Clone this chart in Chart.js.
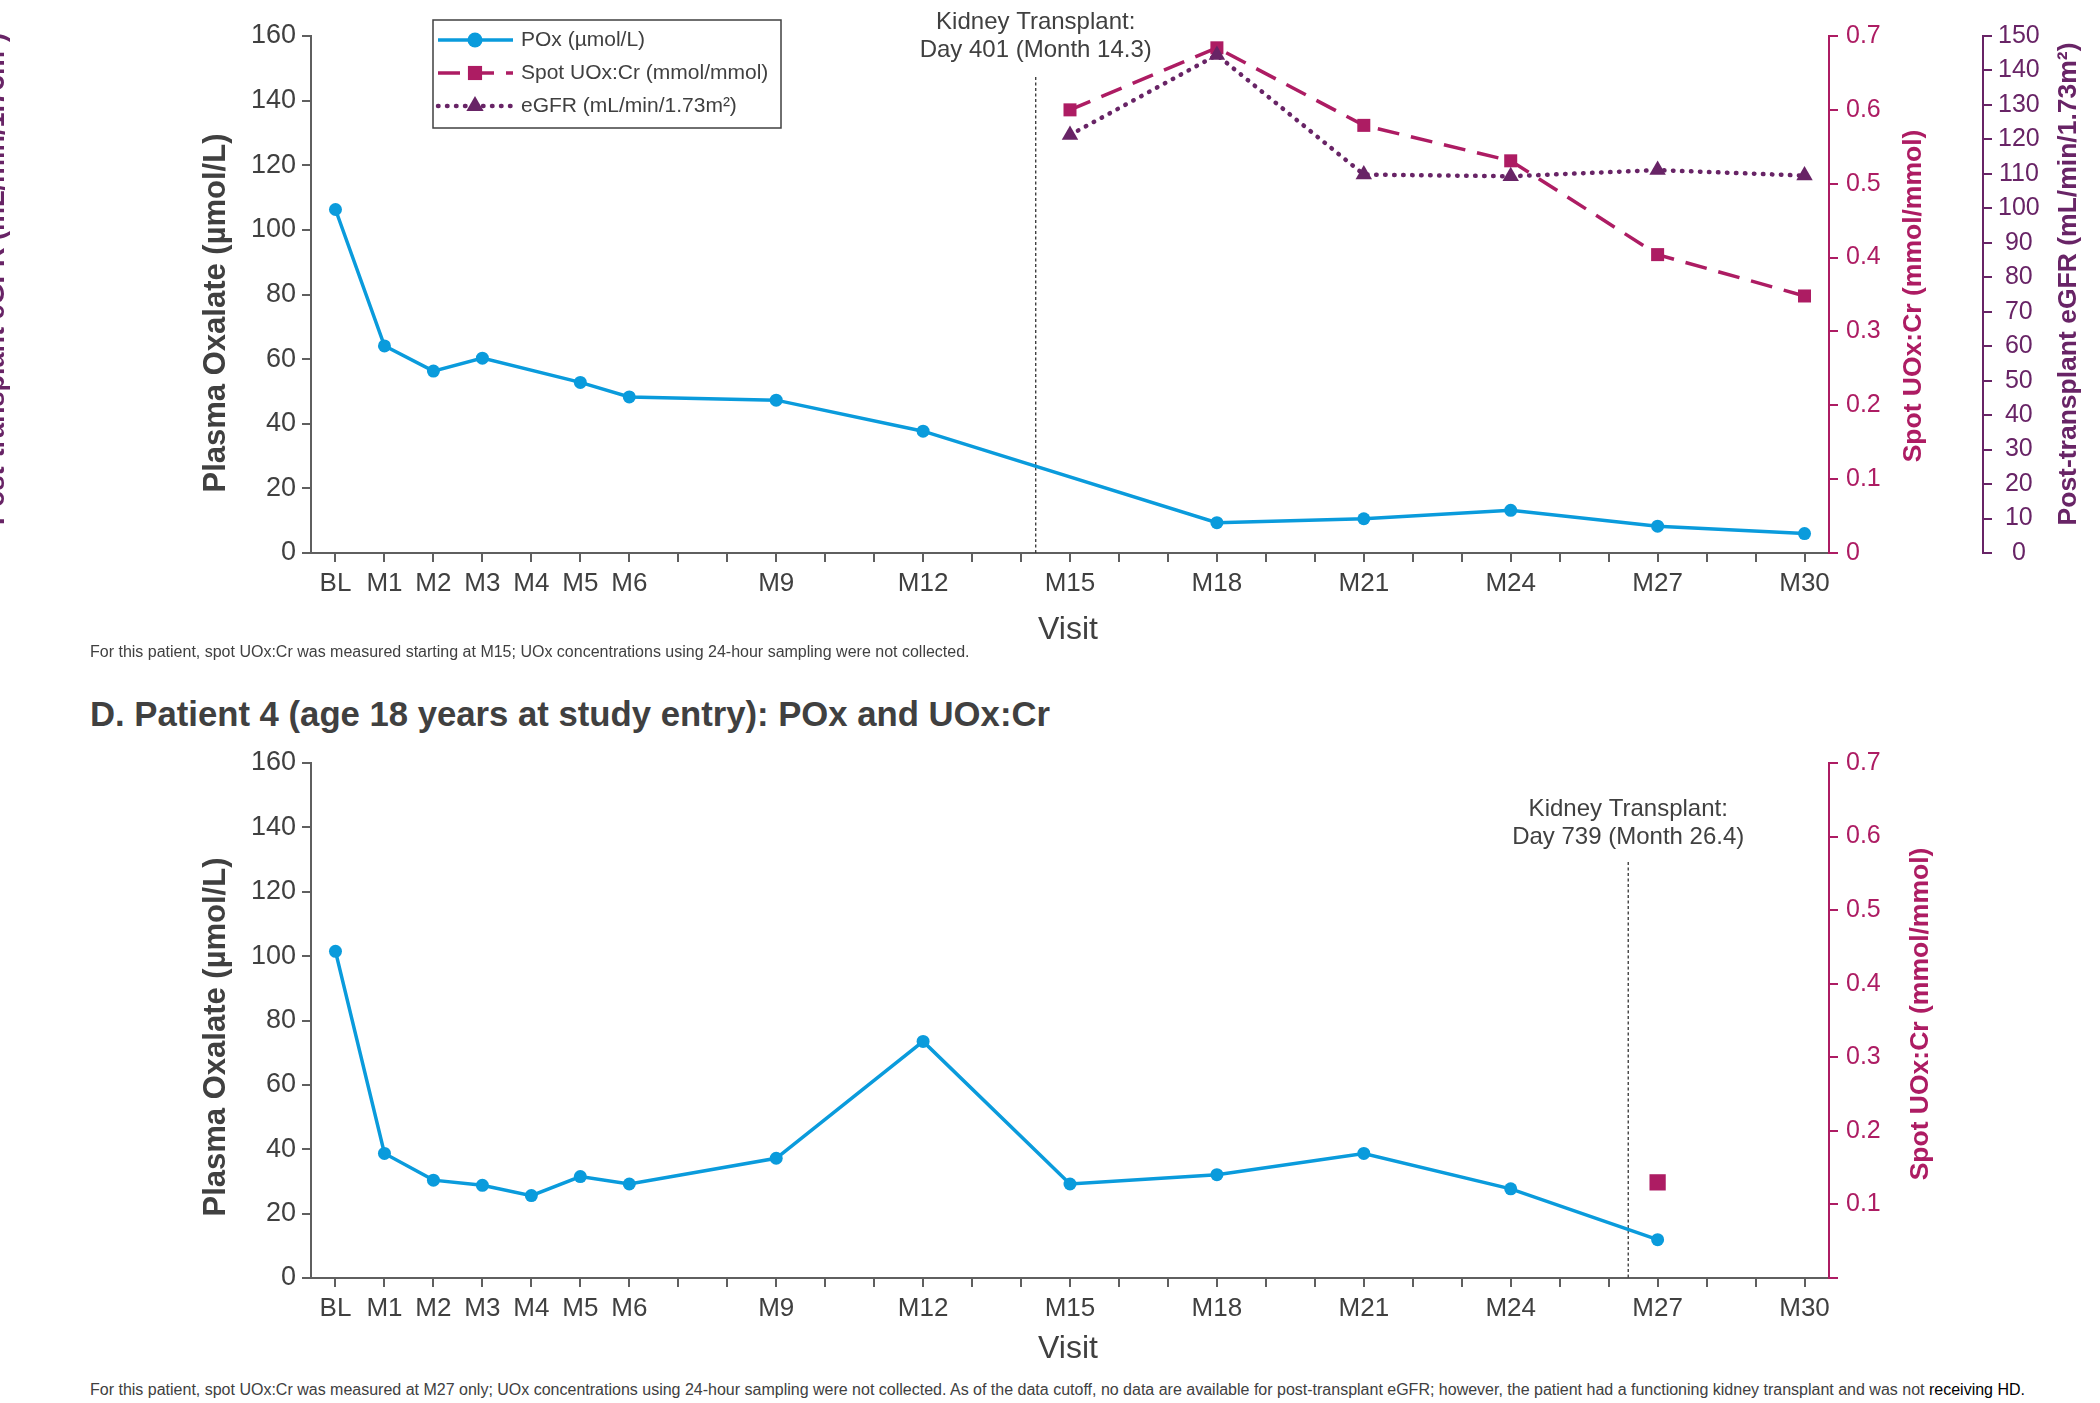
<!DOCTYPE html>
<html>
<head>
<meta charset="utf-8">
<title>Patient POx, UOx:Cr and eGFR</title>
<script src="https://cdn.jsdelivr.net/npm/chart.js@4.4.1/dist/chart.umd.min.js"></script>
<style>
  body { margin: 0; background: #fff; }
  #page { position: relative; width: 2100px; height: 1403px; overflow: hidden; background: #fff;
          font-family: "Liberation Sans", Arial, Helvetica, sans-serif; color: #404040; }
  #page canvas { position: absolute; left: 0; }
  .note { position: absolute; left: 90px; font-size: 16px; line-height: 20px; white-space: nowrap; }
  .panel-title { position: absolute; left: 90px; top: 694px; font-size: 34.7px; line-height: 40px;
                 font-weight: bold; white-space: nowrap; }
</style>
</head>
<body>
<div id="page">
  <canvas id="topChart" width="2100" height="660" style="top:0;width:2100px;height:660px"></canvas>
  <div class="note" style="top:642px">For this patient, spot UOx:Cr was measured starting at M15; UOx concentrations using 24-hour sampling were not collected.</div>
  <div class="panel-title">D. Patient 4 (age 18 years at study entry): POx and UOx:Cr</div>
  <canvas id="bottomChart" width="2100" height="640" style="top:740px;width:2100px;height:640px"></canvas>
  <div class="note" style="top:1380px">For this patient, spot UOx:Cr was measured at M27 only; UOx concentrations using 24-hour sampling were not collected. As of the data cutoff, no data are available for post-transplant eGFR; however, the patient had a functioning kidney transplant and was not <span style="color:#000">receiving HD.</span></div>
</div>

<script>
// ---- data ----
const visitMonths = [0, 1, 2, 3, 4, 5, 6, 9, 12, 15, 18, 21, 24, 27, 30];
const tickMonths = [0, 1, 2, 3, 4, 5, 6, 7, 8, 9, 10, 11, 12, 13, 14, 15, 16, 17, 18, 19, 20, 21, 22, 23, 24, 25, 26, 27, 28, 29, 30];
const tickLabels = ['BL', 'M1', 'M2', 'M3', 'M4', 'M5', 'M6', '', '', 'M9', '', '', 'M12', '', '', 'M15',
                    '', '', 'M18', '', '', 'M21', '', '', 'M24', '', '', 'M27', '', '', 'M30'];

// upper panel (transplant at month 14.3)
const p3Pox   = [106.3, 64.1, 56.3, 60.3, null, 52.8, 48.3, 47.3, 37.7, null, 9.4, 10.6, 13.2, 8.3, 6.0];
const p3UoxCr = [null, null, null, null, null, null, null, null, null, 0.60, 0.684, 0.579, 0.531, 0.404, 0.348];
const p3Egfr  = [null, null, null, null, null, null, null, null, null, 121.3, 144.5, 109.8, 109.3, 111.1, 109.5];
const p3TransplantMonth = 14.3;
const p3TransplantText = ['Kidney Transplant:', 'Day 401 (Month 14.3)'];

// lower panel, patient 4 (transplant at month 26.4)
const p4Pox   = [101.5, 38.7, 30.4, 28.8, 25.6, 31.5, 29.2, 37.2, 73.5, 29.2, 32.1, 38.7, 27.7, 11.9, null];
const p4UoxCr = [null, null, null, null, null, null, null, null, null, null, null, null, null, 0.13, null];
const p4TransplantMonth = 26.4;
const p4TransplantText = ['Kidney Transplant:', 'Day 739 (Month 26.4)'];

const legendLabels = ['POx (\u00b5mol/L)', 'Spot UOx:Cr (mmol/mmol)', 'eGFR (mL/min/1.73m\u00b2)'];

// ---- styles ----
const FONT = '"Liberation Sans", Arial, Helvetica, sans-serif';
const TEXT = '#404040';
const AXIS = '#5f5f5f';
const BLUE = '#0a9bdc';
const PINK = '#ad1c63';
const PURPLE = '#682466';

function toPoints(months, values) {
    return months.map((m, i) => ({ x: m, y: values[i] })).filter(p => p.y !== null);
}

function fixedWidth(w) { return scale => { scale.width = w; }; }
function fixedHeight(h) { return scale => { scale.height = h; }; }

function xScale(height) {
    return {
        type: 'linear', min: -0.5, max: 30.5,
        afterBuildTicks: s => { s.ticks = tickMonths.map(v => ({ value: v })); },
        afterFit: fixedHeight(height),
        grid: { drawOnChartArea: false, tickLength: 9, color: AXIS, lineWidth: 2 },
        border: { color: AXIS, width: 2 },
        ticks: { autoSkip: false, maxRotation: 0, padding: 6, color: TEXT,
                 font: { family: FONT, size: 26 },
                 callback: (v, i) => tickLabels[i] }
    };
}

function poxScale() {
    return {
        position: 'left', min: 0, max: 160,
        afterFit: fixedWidth(311),
        grid: { drawOnChartArea: false, tickLength: 9, color: AXIS, lineWidth: 2 },
        border: { color: AXIS, width: 2 },
        ticks: { stepSize: 20, padding: 6, color: TEXT, font: { family: FONT, size: 27 } }
    };
}

function uoxScale(showZero) {
    return {
        position: 'right', min: 0, max: 0.7,
        afterFit: fixedWidth(154),
        grid: { drawOnChartArea: false, tickLength: 9, color: PINK, lineWidth: 2 },
        border: { color: PINK, width: 2 },
        ticks: { stepSize: 0.1, padding: 8, color: PINK, font: { family: FONT, size: 25 },
                 callback: v => Math.abs(v) < 1e-9 ? (showZero ? '0' : '') : v.toFixed(1) }
    };
}

// transplant marker, axis titles and legend
const decorPlugin = {
    id: 'decor',
    beforeDatasetsDraw(chart, args, opts) {
        const { ctx, chartArea, scales } = chart;
        const tx = scales.x.getPixelForValue(opts.transplantMonth);
        ctx.save();
        ctx.strokeStyle = '#333';
        ctx.lineWidth = 1.3;
        ctx.setLineDash([3, 2.5]);
        ctx.beginPath();
        ctx.moveTo(tx, opts.lineTop);
        ctx.lineTo(tx, chartArea.bottom);
        ctx.stroke();
        ctx.restore();
    },
    afterDraw(chart, args, opts) {
        const { ctx, scales } = chart;
        const tx = scales.x.getPixelForValue(opts.transplantMonth);
        ctx.save();
        ctx.fillStyle = TEXT;
        ctx.font = '24px ' + FONT;
        ctx.textAlign = 'center';
        ctx.textBaseline = 'middle';
        opts.transplantText.forEach((t, i) => ctx.fillText(t, tx, opts.labelY[i]));

        opts.titles.forEach(t => {
            ctx.save();
            ctx.translate(t.x, t.y);
            ctx.rotate(t.rot || 0);
            ctx.font = t.font;
            ctx.fillStyle = t.color;
            ctx.textAlign = 'center';
            ctx.textBaseline = t.baseline || 'middle';
            ctx.fillText(t.text, 0, 0);
            ctx.restore();
        });

        if (opts.legend) {
            const L = opts.legend;
            ctx.strokeStyle = '#404040';
            ctx.lineWidth = 1.5;
            ctx.strokeRect(L.x, L.y, L.w, L.h);
            chart.data.datasets.forEach((ds, i) => {
                const y = L.rowY[i];
                ctx.save();
                ctx.strokeStyle = ds.borderColor;
                ctx.lineWidth = ds.borderWidth;
                ctx.lineCap = ds.borderCapStyle || 'butt';
                ctx.setLineDash(ds.borderDash || []);
                ctx.beginPath();
                ctx.moveTo(L.x + 5, y);
                ctx.lineTo(L.x + 80, y);
                ctx.stroke();
                ctx.setLineDash([]);
                ctx.fillStyle = ds.backgroundColor;
                Chart.helpers.drawPoint(ctx, { pointStyle: ds.pointStyle, radius: L.markerR[i], rotation: 0, borderWidth: 0 },
                                        L.x + 42, y);
                ctx.restore();
                ctx.fillStyle = TEXT;
                ctx.font = '21px ' + FONT;
                ctx.textAlign = 'left';
                ctx.textBaseline = 'middle';
                ctx.fillText(legendLabels[i], L.x + 88, y);
            });
        }
        ctx.restore();
    }
};

const common = {
    responsive: false,
    animation: false,
    events: [],
    plugins: { legend: { display: false }, tooltip: { enabled: false } }
};

// ---- upper panel ----
new Chart(document.getElementById('topChart'), {
    type: 'line',
    data: {
        datasets: [
            { label: legendLabels[0], data: toPoints(visitMonths, p3Pox), yAxisID: 'y', order: 0,
              borderColor: BLUE, backgroundColor: BLUE, borderWidth: 3.5,
              pointStyle: 'circle', pointRadius: 6.5, pointBorderWidth: 0, clip: false },
            { label: legendLabels[1], data: toPoints(visitMonths, p3UoxCr), yAxisID: 'yU', order: 2,
              borderColor: PINK, backgroundColor: PINK, borderWidth: 3.5, borderDash: [22, 12],
              pointStyle: 'rect', pointRadius: 9.2, pointBorderWidth: 0, clip: false },
            { label: legendLabels[2], data: toPoints(visitMonths, p3Egfr), yAxisID: 'yE', order: 1,
              borderColor: PURPLE, backgroundColor: PURPLE, borderWidth: 4.5, borderDash: [0.5, 8.5],
              borderCapStyle: 'round', pointStyle: 'triangle', pointRadius: 9.5, pointBorderWidth: 0, clip: false }
        ]
    },
    options: Object.assign({}, common, {
        layout: { padding: { top: 36, left: 0, right: 0, bottom: 0 } },
        scales: {
            x: xScale(107),
            y: poxScale(),
            yU: uoxScale(true),
            yE: {
                position: 'right', min: 0, max: 150,
                afterFit: fixedWidth(117),
                grid: { drawOnChartArea: false, tickLength: 9, color: PURPLE, lineWidth: 2 },
                border: { color: PURPLE, width: 2 },
                ticks: { stepSize: 10, padding: 6, color: PURPLE, crossAlign: 'center',
                         font: { family: FONT, size: 25 } }
            }
        },
        plugins: Object.assign({}, common.plugins, {
            decor: {
                transplantMonth: p3TransplantMonth,
                transplantText: p3TransplantText,
                labelY: [22, 50],
                lineTop: 77,
                legend: { x: 433, y: 20, w: 348, h: 108, rowY: [40, 73, 106], markerR: [7.5, 10, 10] },
                titles: [
                    { text: 'Plasma Oxalate (\u00b5mol/L)', x: 216, y: 313, rot: -Math.PI / 2,
                      font: 'bold 31px ' + FONT, color: TEXT },
                    { text: 'Spot UOx:Cr (mmol/mmol)', x: 1914, y: 296, rot: -Math.PI / 2,
                      font: 'bold 26.5px ' + FONT, color: PINK },
                    { text: 'Post-transplant eGFR (mL/min/1.73m\u00b2)', x: 2069, y: 284, rot: -Math.PI / 2,
                      font: 'bold 26.5px ' + FONT, color: PURPLE },
                    { text: 'Visit', x: 1068, y: 630, font: '32px ' + FONT, color: TEXT },
                    // clipped title of the neighbouring panel at the left edge
                    { text: 'Post-transplant eGFR (mL/min/1.73m\u00b2)', x: 4, y: 279, rot: -Math.PI / 2,
                      font: 'bold 27px ' + FONT, color: PURPLE, baseline: 'alphabetic' }
                ]
            }
        })
    }),
    plugins: [decorPlugin]
});

// ---- lower panel ----
new Chart(document.getElementById('bottomChart'), {
    type: 'line',
    data: {
        datasets: [
            { label: legendLabels[0], data: toPoints(visitMonths, p4Pox), yAxisID: 'y',
              borderColor: BLUE, backgroundColor: BLUE, borderWidth: 3.5,
              pointStyle: 'circle', pointRadius: 6.5, pointBorderWidth: 0, clip: false },
            { label: legendLabels[1], data: toPoints(visitMonths, p4UoxCr), yAxisID: 'yU',
              borderColor: PINK, backgroundColor: PINK, borderWidth: 0, showLine: false,
              pointStyle: 'rect', pointRadius: 11.5, pointBorderWidth: 0, clip: false }
        ]
    },
    options: Object.assign({}, common, {
        layout: { padding: { top: 19, left: 0, right: 117, bottom: 0 } },
        scales: {
            x: xScale(102),
            y: poxScale(),
            yU: uoxScale(false)
        },
        plugins: Object.assign({}, common.plugins, {
            decor: {
                transplantMonth: p4TransplantMonth,
                transplantText: p4TransplantText,
                labelY: [69, 97],
                lineTop: 122,
                legend: null,
                titles: [
                    { text: 'Plasma Oxalate (\u00b5mol/L)', x: 216, y: 297, rot: -Math.PI / 2,
                      font: 'bold 31px ' + FONT, color: TEXT },
                    { text: 'Spot UOx:Cr (mmol/mmol)', x: 1921, y: 274, rot: -Math.PI / 2,
                      font: 'bold 26.5px ' + FONT, color: PINK },
                    { text: 'Visit', x: 1068, y: 609, font: '32px ' + FONT, color: TEXT }
                ]
            }
        })
    }),
    plugins: [decorPlugin]
});
</script>
</body>
</html>
